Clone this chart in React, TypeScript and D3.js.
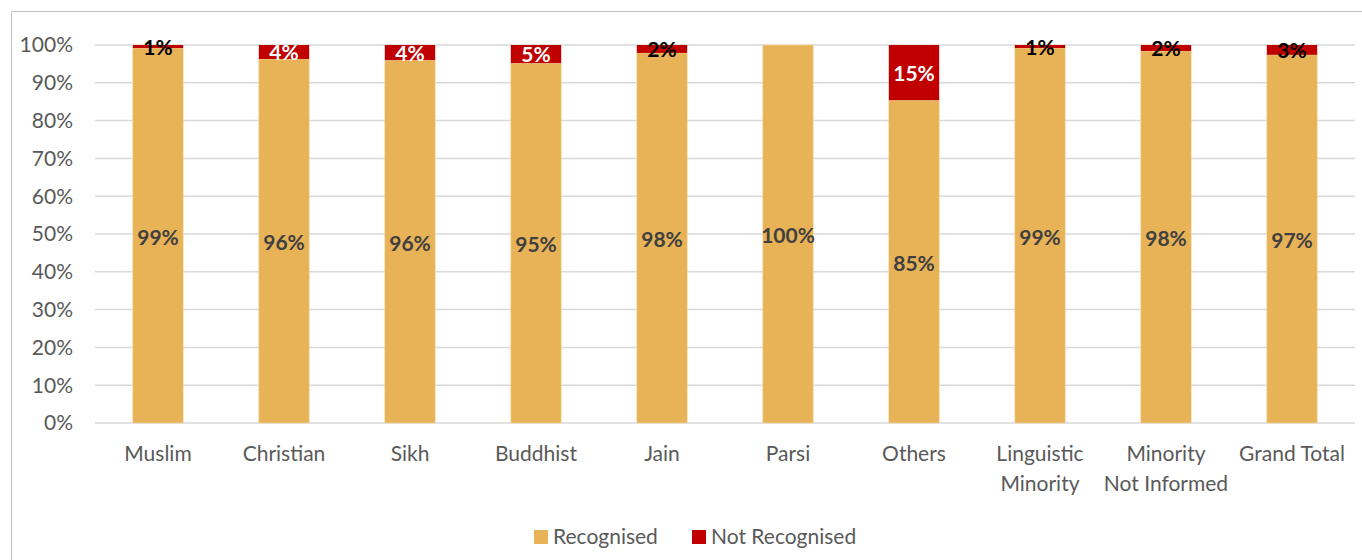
import React from "react";
import * as d3 from "d3";

const categories = ["Muslim", "Christian", "Sikh", "Buddhist", "Jain", "Parsi", "Others", "Linguistic\nMinority", "Minority\nNot Informed", "Grand Total"];
const recognised = [99.2, 96.3, 96.0, 95.2, 97.9, 100, 85.4, 99.2, 98.4, 97.4];
const notRecognised = [0.8, 3.7, 4.0, 4.8, 2.1, 0, 14.6, 0.8, 1.6, 2.6];
const recognisedLabels = ["99%", "96%", "96%", "95%", "98%", "100%", "85%", "99%", "98%", "97%"];
const notRecognisedLabels = ["1%", "4%", "4%", "5%", "2%", "", "15%", "1%", "2%", "3%"];
const notRecognisedLabelColors = ["#000", "#fff", "#fff", "#fff", "#000", "#000", "#fff", "#000", "#000", "#000"];
const yTicks = [0, 10, 20, 30, 40, 50, 60, 70, 80, 90, 100];
const seriesNames = ["Recognised", "Not Recognised"];
const colors = ["#E8B257", "#C00000"];

const W = 1362, H = 560;
const FONT = "Lato, 'Open Sans', sans-serif";
const FS = 21;

export default function App() {
  const x = d3.scaleBand().domain(categories).range([95, 1355]).paddingInner(0.6).paddingOuter(0.3);
  const y = d3.scaleLinear().domain([0, 100]).range([423, 45]);
  const bw = x.bandwidth();
  return (
    <svg width={W} height={H} style={{ position: "absolute", left: 0, top: 0, background: "#fff" }} fontFamily={FONT}>
      <path d={`M11.5,${H} V11.5 H${W}`} fill="none" stroke="#bfbfbf" strokeWidth={1} />
      {yTicks.map((t) => (
        <g key={t}>
          <line x1={95} x2={1355} y1={y(t)} y2={y(t)} stroke="#d9d9d9" strokeWidth={1.5} />
          <text x={73} y={y(t)} dy="0.35em" textAnchor="end" fontSize={FS} fill="#595959">{t}%</text>
        </g>
      ))}
      {categories.map((c, i) => {
        const x0 = x(c)!;
        const cx = x0 + bw / 2;
        const lines = c.split("\n");
        return (
          <g key={c}>
            <rect x={x0} y={y(recognised[i])} width={bw} height={y(0) - y(recognised[i])} fill={colors[0]} stroke="#f5d9a8" strokeWidth={0.6} />
            {notRecognised[i] > 0 && (
              <rect x={x0} y={y(100)} width={bw} height={y(100 - notRecognised[i]) - y(100)} fill={colors[1]} />
            )}
            <text x={cx} y={(y(recognised[i]) + y(0)) / 2 + 2} dy="0.35em" textAnchor="middle" fontSize={FS} fontWeight="bold" fill="#404040">{recognisedLabels[i]}</text>
            {notRecognisedLabels[i] && (
              <text x={cx} y={(y(100) + y(100 - notRecognised[i])) / 2 + 1} dy="0.35em" textAnchor="middle" fontSize={FS} fontWeight="bold" fill={notRecognisedLabelColors[i]}>{notRecognisedLabels[i]}</text>
            )}
            {lines.map((l, k) => (
              <text key={k} x={cx} y={454 + k * 30} dy="0.35em" textAnchor="middle" fontSize={FS} fill="#595959">{l}</text>
            ))}
          </g>
        );
      })}
      {seriesNames.map((s, i) => {
        const lx = [534, 692][i];
        return (
          <g key={s}>
            <rect x={lx} y={530} width={14} height={14} fill={colors[i]} />
            <text x={lx + 19} y={537} dy="0.35em" fontSize={FS} fill="#595959">{s}</text>
          </g>
        );
      })}
    </svg>
  );
}
